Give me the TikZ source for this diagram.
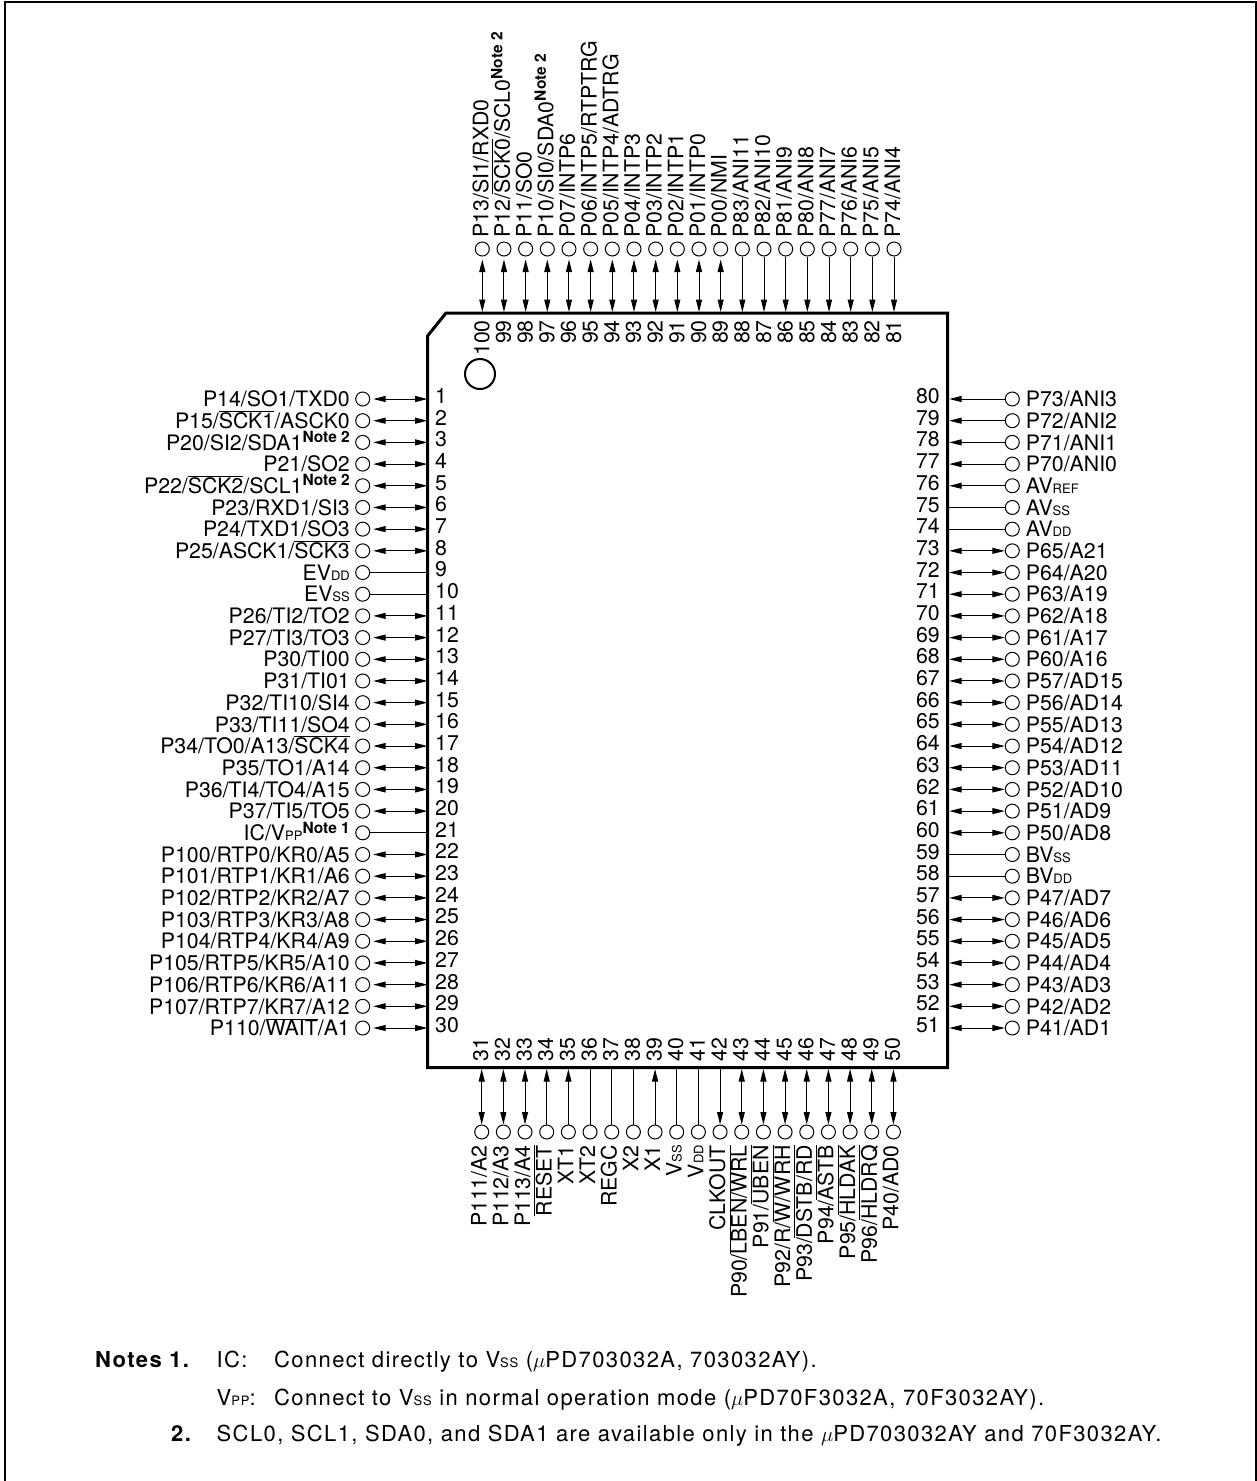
\documentclass[tikz,border=0pt]{standalone}
\usepackage{fontspec}
\setmainfont{TeX Gyre Heros}
\usetikzlibrary{arrows.meta}

\newcommand{\pinfont}{\fontsize{21.3}{21.3}\selectfont}
\newcommand{\notefont}{\fontsize{22}{22}\selectfont\addfontfeature{LetterSpace=6.3}}
\newcommand{\pinbar}[1]{\ensuremath{\overline{\mbox{#1}}}}
\newcommand{\pinsub}[1]{{\fontsize{13}{13}\selectfont #1}}
\newcommand{\pinnote}[1]{\raisebox{7.5pt}{\fontsize{15.5}{15.5}\selectfont\bfseries Note #1}}

\begin{document}
\begin{tikzpicture}[x=1pt, y=-1pt]

        % Setup the styles for the pads, the texts and the wires
        \tikzset{pad style/.style={circle,
                                   draw,
                                   fill=white,
                                   line width=1pt,
                                   inner sep=0pt,
                                   minimum size=14pt},
                 text style/.style={font=\pinfont,
                                    inner sep=0pt},
                 note style/.style={font=\notefont,
                                    anchor=base west,
                                    inner sep=0pt},
                 conn tip/.style={>={Triangle[length=12.5pt,width=6pt]}},
                 connbi/.style={conn tip, line width=1pt, <->},
                 connbigap/.style={connbi, shorten <=3pt},
                 connin/.style={conn tip, line width=1pt, ->},
                 connout/.style={conn tip, line width=1pt, <-},
                 connnone/.style={line width=1pt}}

        \useasboundingbox (0, 0) rectangle (1257, 1481);

        % Draw the frame and the chip
        \draw[line width=2pt] (4.5, 1481) -- (4.5, 1.5) -- (1255.5, 1.5) -- (1255.5, 1481);
        \draw[line width=3pt] (446, 313) -- (947.7, 313) -- (947.7, 1067.5)
                              -- (427.5, 1067.5) -- (427.5, 336) -- cycle;
        \node[circle, draw, line width=2pt, minimum size=30pt, inner sep=0pt] at (480, 374) (index) {};

        % Left side, pins 1 to 30
        \foreach \n/\name/\kind in {
            1/{P14/SO1/TXD0}/connbigap,
            2/{P15/\pinbar{SCK1}/ASCK0}/connbigap,
            3/{P20/SI2/SDA1\pinnote{2}}/connbigap,
            4/{P21/SO2}/connbigap,
            5/{P22/\pinbar{SCK2}/SCL1\pinnote{2}}/connbigap,
            6/{P23/RXD1/SI3}/connbigap,
            7/{P24/TXD1/SO3}/connbigap,
            8/{P25/ASCK1/\pinbar{SCK3}}/connbigap,
            9/{EV\pinsub{DD}}/connnone,
            10/{EV\pinsub{SS}}/connnone,
            11/{P26/TI2/TO2}/connbigap,
            12/{P27/TI3/TO3}/connbigap,
            13/{P30/TI00}/connbigap,
            14/{P31/TI01}/connbigap,
            15/{P32/TI10/SI4}/connbigap,
            16/{P33/TI11/SO4}/connbigap,
            17/{P34/TO0/A13/\pinbar{SCK4}}/connbigap,
            18/{P35/TO1/A14}/connbigap,
            19/{P36/TI4/TO4/A15}/connbigap,
            20/{P37/TI5/TO5}/connbigap,
            21/{IC/V\pinsub{PP}\pinnote{1}}/connnone,
            22/{P100/RTP0/KR0/A5}/connbigap,
            23/{P101/RTP1/KR1/A6}/connbigap,
            24/{P102/RTP2/KR2/A7}/connbigap,
            25/{P103/RTP3/KR3/A8}/connbigap,
            26/{P104/RTP4/KR4/A9}/connbigap,
            27/{P105/RTP5/KR5/A10}/connbigap,
            28/{P106/RTP6/KR6/A11}/connbigap,
            29/{P107/RTP7/KR7/A12}/connbigap,
            30/{P110/\pinbar{WAIT}/A1}/connbigap} {
            \pgfmathsetmacro{\rowy}{399+(\n-1)*21.69}
            \node[pad style] at (362.7, \rowy) (pad\n) {};
            \coordinate (pin\n) at (427.5, \rowy);
            \node[text style, anchor=base east] at (350, \rowy+7.7) (text\n) {\name};
            \node[text style, anchor=base west] at (435, \rowy+4.4) (num\n) {\n};
            \draw[\kind] (pad\n) -- (pin\n);
        }

        % Right side, pins 80 down to 51
        \foreach \n/\name/\kind in {
            80/{P73/ANI3}/connin,
            79/{P72/ANI2}/connin,
            78/{P71/ANI1}/connin,
            77/{P70/ANI0}/connin,
            76/{AV\pinsub{REF}}/connin,
            75/{AV\pinsub{SS}}/connnone,
            74/{AV\pinsub{DD}}/connnone,
            73/{P65/A21}/connbi,
            72/{P64/A20}/connbi,
            71/{P63/A19}/connbi,
            70/{P62/A18}/connbi,
            69/{P61/A17}/connbi,
            68/{P60/A16}/connbi,
            67/{P57/AD15}/connbi,
            66/{P56/AD14}/connbi,
            65/{P55/AD13}/connbi,
            64/{P54/AD12}/connbi,
            63/{P53/AD11}/connbi,
            62/{P52/AD10}/connbi,
            61/{P51/AD9}/connbi,
            60/{P50/AD8}/connbi,
            59/{BV\pinsub{SS}}/connnone,
            58/{BV\pinsub{DD}}/connnone,
            57/{P47/AD7}/connbi,
            56/{P46/AD6}/connbi,
            55/{P45/AD5}/connbi,
            54/{P44/AD4}/connbi,
            53/{P43/AD3}/connbi,
            52/{P42/AD2}/connbi,
            51/{P41/AD1}/connbi} {
            \pgfmathsetmacro{\rowy}{399+(80-\n)*21.69}
            \node[pad style] at (1012.3, \rowy) (pad\n) {};
            \coordinate (pin\n) at (949.2, \rowy);
            \node[text style, anchor=base west] at (1025.7, \rowy+7.7) (text\n) {\name};
            \node[text style, anchor=base east] at (940, \rowy+4.6) (num\n) {\n};
            \draw[\kind] (pad\n) -- (pin\n);
        }

        % Top side, pins 100 down to 81
        \foreach \n/\name/\kind in {
            100/{P13/SI1/RXD0}/connbigap,
            99/{P12/\pinbar{SCK0}/SCL0\pinnote{2}}/connbigap,
            98/{P11/SO0}/connbigap,
            97/{P10/SI0/SDA0\pinnote{2}}/connbigap,
            96/{P07/INTP6}/connbigap,
            95/{P06/INTP5/RTPTRG}/connbigap,
            94/{P05/INTP4/ADTRG}/connbigap,
            93/{P04/INTP3}/connbigap,
            92/{P03/INTP2}/connbigap,
            91/{P02/INTP1}/connbigap,
            90/{P01/INTP0}/connbigap,
            89/{P00/NMI}/connbigap,
            88/{P83/ANI11}/connin,
            87/{P82/ANI10}/connin,
            86/{P81/ANI9}/connin,
            85/{P80/ANI8}/connin,
            84/{P77/ANI7}/connin,
            83/{P76/ANI6}/connin,
            82/{P75/ANI5}/connin,
            81/{P74/ANI4}/connin} {
            \pgfmathsetmacro{\colx}{482.3+(100-\n)*21.67}
            \node[pad style] at (\colx, 249) (pad\n) {};
            \coordinate (pin\n) at (\colx, 312);
            \node[text style, rotate=90, anchor=base west] at (\colx+6, 238) (text\n) {\name};
            \node[text style, rotate=90, anchor=base east] at (\colx+7, 320) (num\n) {\n};
            \draw[\kind] (pad\n) -- (pin\n);
        }

        % Bottom side, pins 31 to 50
        \foreach \n/\name/\kind in {
            31/{P111/A2}/connbi,
            32/{P112/A3}/connbi,
            33/{P113/A4}/connbi,
            34/{\pinbar{RESET}}/connin,
            35/{XT1}/connin,
            36/{XT2}/connnone,
            37/{REGC}/connnone,
            38/{X2}/connnone,
            39/{X1}/connin,
            40/{V\pinsub{SS}}/connnone,
            41/{V\pinsub{DD}}/connnone,
            42/{CLKOUT}/connout,
            43/{P90/\pinbar{LBEN/WRL}}/connbi,
            44/{P91/\pinbar{UBEN}}/connbi,
            45/{P92/R/\pinbar{W/WRH}}/connbi,
            46/{P93/\pinbar{DSTB/RD}}/connbi,
            47/{P94/\pinbar{ASTB}}/connbi,
            48/{P95/\pinbar{HLDAK}}/connbi,
            49/{P96/\pinbar{HLDRQ}}/connbi,
            50/{P40/AD0}/connbi} {
            \pgfmathsetmacro{\colx}{481.7+(\n-31)*21.67}
            \node[pad style] at (\colx, 1132) (pad\n) {};
            \coordinate (pin\n) at (\colx, 1069);
            \node[text style, rotate=90, anchor=base east] at (\colx+5, 1145) (text\n) {\name};
            \node[text style, rotate=90, anchor=base west] at (\colx+6.5, 1062) (num\n) {\n};
            \draw[\kind] (pad\n) -- (pin\n);
        }

        % The notes
        \node[note style, font=\notefont\bfseries] at (95, 1367.5) (notes) {Notes 1.};
        \node[note style] at (216.5, 1367.5) (ic) {IC:};
        \node[note style] at (274, 1367.5) (icnote) {Connect directly to V\pinsub{SS} ($\mu$PD703032A, 703032AY).};
        \node[note style] at (216.5, 1405) (vpp) {V\pinsub{PP}:};
        \node[note style] at (274, 1405) (vppnote) {Connect to V\pinsub{SS} in normal operation mode ($\mu$PD70F3032A, 70F3032AY).};
        \node[note style, font=\notefont\bfseries] at (171, 1441.5) (two) {2.};
        \node[note style] at (216.5, 1441.5) (sclnote) {SCL0, SCL1, SDA0, and SDA1 are available only in the $\mu$PD703032AY and 70F3032AY.};

\end{tikzpicture}
\end{document}
